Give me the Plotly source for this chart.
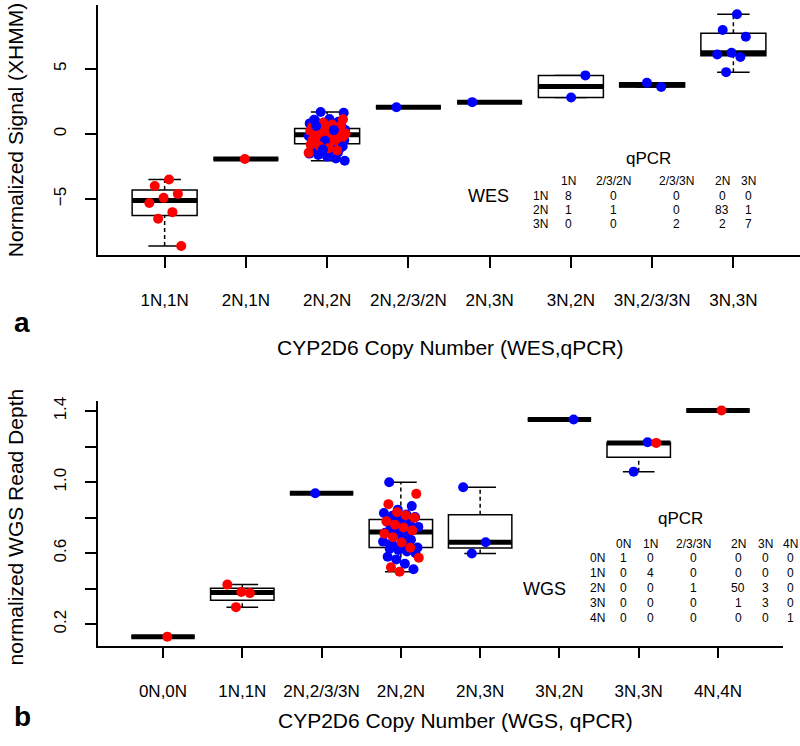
import numpy as np
import plotly.graph_objects as go

# ---- panel a: WES (XHMM normalized signal) vs qPCR ----
wes_cats = ["1N,1N", "2N,1N", "2N,2N", "2N,2/3/2N", "2N,3N", "3N,2N", "3N,2/3/3N", "3N,3N"]
wes_red = [
    [-3.5, -4.0, -4.6, -4.9, -5.3, -6.0, -6.5, -8.6],
    [-1.92],
    [1.12, 0.96, 0.85, 0.72, 0.63, 0.55, 0.44, 0.38, 0.33, 0.24,
     0.19, 0.14, 0.09, 0.04, -0.01, -0.05, -0.09, -0.14, -0.2, -0.24,
     -0.29, -0.36, -0.44, -0.53, -0.61, -0.7, -0.82, -0.95, -1.1, -1.27, -1.45],
    [], [], [], [], [],
]
wes_blue = [
    [],
    [],
    [1.68, 1.62, 1.15, 1.02, 0.94, 0.88, 0.81, 0.74, 0.66, 0.58,
     0.52, 0.47, 0.41, 0.36, 0.31, 0.27, 0.22, 0.17, 0.12, 0.08,
     0.03, -0.02, -0.07, -0.12, -0.18, -0.26, -0.33, -0.41, -0.48, -0.56,
     -0.63, -0.71, -0.78, -0.86, -0.93, -1.01, -1.08, -1.16, -1.24, -1.33,
     -1.42, -1.51, -1.62, -1.74, -1.88, -2.06, 0.61, -0.52, 0.29, -0.97, 1.08, -1.2],
    [2.05],
    [2.44],
    [4.49, 2.8],
    [3.6, 3.92],
    [9.18, 7.97, 7.46, 6.23, 6.1, 5.9, 4.74],
]
wes_tab_cols = ["1N", "2/3/2N", "2/3/3N", "2N", "3N"]
wes_tab_rows = ["1N", "2N", "3N"]
wes_tab_counts = [[8, 0, 0, 0, 0],
                  [1, 1, 0, 83, 1],
                  [0, 0, 2, 2, 7]]

# ---- panel b: WGS read depth vs qPCR ----
wgs_cats = ["0N,0N", "1N,1N", "2N,2/3/3N", "2N,2N", "2N,3N", "3N,2N", "3N,3N", "4N,4N"]
wgs_red = [
    [0.13],
    [0.382, 0.423, 0.375, 0.296],
    [],
    [0.934, 0.876, 0.83, 0.813, 0.80, 0.78, 0.76, 0.745, 0.728, 0.71,
     0.69, 0.66, 0.63, 0.574, 0.52, 0.495],
    [],
    [],
    [1.221],
    [1.404],
]
wgs_blue = [
    [],
    [],
    [0.937],
    [0.999, 0.865, 0.845, 0.826, 0.818, 0.81, 0.803, 0.79, 0.775, 0.765,
     0.755, 0.748, 0.74, 0.735, 0.73, 0.722, 0.715, 0.705, 0.695, 0.685,
     0.675, 0.665, 0.655, 0.645, 0.64, 0.632, 0.625, 0.618, 0.61, 0.6,
     0.58, 0.565, 0.54, 0.509],
    [0.971, 0.661, 0.598],
    [1.353],
    [1.225, 1.059],
    [],
]
wgs_tab_cols = ["0N", "1N", "2/3/3N", "2N", "3N", "4N"]
wgs_tab_rows = ["0N", "1N", "2N", "3N", "4N"]
wgs_tab_counts = [[1, 0, 0, 0, 0, 0],
                  [0, 4, 0, 0, 0, 0],
                  [0, 0, 1, 50, 3, 0],
                  [0, 0, 0, 1, 3, 0],
                  [0, 0, 0, 0, 0, 1]]

W, H = 800, 746
FONT = "Liberation Sans, Arial, Helvetica, sans-serif"
RED, BLUE = "#ff0000", "#0000ff"


def px(x):
    return x / W


def py(y):
    return 1 - y / H


def fivenum(v):
    # Tukey five-number summary, as R's boxplot uses
    x = np.sort(np.asarray(v, float))
    n = len(x)
    n4 = np.floor((n + 3) / 2) / 2
    d = np.array([1, n4, (n + 1) / 2, n + 1 - n4, n])
    return 0.5 * (x[np.floor(d).astype(int) - 1] + x[np.ceil(d).astype(int) - 1])


def box_stats(v):
    _, q1, med, q3, _ = fivenum(v)
    iqr = q3 - q1
    x = np.asarray(v, float)
    lo = x[x >= q1 - 1.5 * iqr].min()
    hi = x[x <= q3 + 1.5 * iqr].max()
    return lo, q1, med, q3, hi


fig = go.Figure()
shapes = []


def draw_panel(cats, reds, blues, xr, yr):
    xs, ys, cs = [], [], []
    for i, cat in enumerate(cats):
        pos = i + 1
        b, r = list(blues[i]), list(reds[i])
        # surplus of the larger set is drawn first, then the two sets alternate
        extra = abs(len(b) - len(r))
        if len(b) >= len(r):
            vals, cols = b[:extra], [BLUE] * extra
            b = b[extra:]
        else:
            vals, cols = r[:extra], [RED] * extra
            r = r[extra:]
        for bv, rv in zip(b, r):
            vals += [bv, rv]
            cols += [BLUE, RED]
        lo, q1, med, q3, hi = box_stats(vals)
        blk = dict(color="black", width=1.5)
        common = dict(xref=xr, yref=yr, layer="below")
        shapes.append(dict(type="line", x0=pos, x1=pos, y0=q3, y1=hi,
                           line=dict(color="black", width=1.5, dash="4px,3px"), **common))
        shapes.append(dict(type="line", x0=pos, x1=pos, y0=lo, y1=q1,
                           line=dict(color="black", width=1.5, dash="4px,3px"), **common))
        for w in (lo, hi):
            shapes.append(dict(type="line", x0=pos - 0.2, x1=pos + 0.2, y0=w, y1=w,
                               line=blk, **common))
        shapes.append(dict(type="rect", x0=pos - 0.4, x1=pos + 0.4, y0=q1, y1=q3,
                           fillcolor="white", line=blk, **common))
        shapes.append(dict(type="line", x0=pos - 0.4, x1=pos + 0.4, y0=med, y1=med,
                           line=dict(color="black", width=5), **common))
        # deterministic jitter of the points around the category position
        n = len(vals)
        frac = ((np.arange(n) + 1 + 3 * i) * 0.6180339887) % 1.0
        offs = (frac - 0.5) * 0.46
        xs += list(pos + offs)
        ys += vals
        cs += cols
    fig.add_trace(go.Scatter(
        x=xs, y=ys, mode="markers", xaxis=xr, yaxis=yr,
        marker=dict(color=cs, size=10, line=dict(width=0)),
        showlegend=False, hoverinfo="y"))
    allv = [v for g in reds + blues for v in g]
    lo, hi = min(allv), max(allv)
    pad = 0.04 * (hi - lo)
    n = len(cats)
    xpad = 0.04 * n
    return [0.5 - xpad, n + 0.5 + xpad], [lo - pad, hi + pad]


xr_a, yr_a = draw_panel(wes_cats, wes_red, wes_blue, "x", "y")
xr_b, yr_b = draw_panel(wgs_cats, wgs_red, wgs_blue, "x2", "y2")

axis_common = dict(showline=True, linecolor="black", linewidth=1.5,
                   ticks="outside", ticklen=11, tickwidth=1.5, tickcolor="black",
                   showgrid=False, zeroline=False,
                   tickfont=dict(family=FONT, size=17, color="black"))

fig.update_layout(
    width=W, height=H,
    margin=dict(l=0, r=0, t=0, b=0),
    paper_bgcolor="white", plot_bgcolor="white",
    showlegend=False,
    shapes=shapes,
    xaxis=dict(domain=[px(98), 1.0], range=xr_a, anchor="y",
               tickvals=list(range(1, len(wes_cats) + 1)), ticktext=wes_cats,
               ticklabelstandoff=18, **axis_common),
    yaxis=dict(domain=[py(252), 1.0], range=yr_a, anchor="x",
               tickvals=[-5, 0, 5], tickangle=-90, ticklabelstandoff=12,
               **axis_common),
    xaxis2=dict(domain=[px(98), px(783)], range=xr_b, anchor="y2",
                tickvals=list(range(1, len(wgs_cats) + 1)), ticktext=wgs_cats,
                ticklabelstandoff=18, **axis_common),
    yaxis2=dict(domain=[py(645), py(399)], range=yr_b, anchor="x2",
                tickvals=[0.2, 0.4, 0.6, 0.8, 1.0, 1.2, 1.4],
                ticktext=["0.2", "", "0.6", "", "1.0", "", "1.4"],
                tickangle=-90, ticklabelstandoff=12, **axis_common),
)

ann = []


def label(x, y, text, size, angle=0, bold=False):
    t = "<b>%s</b>" % text if bold else text
    ann.append(dict(x=px(x), y=py(y), xref="paper", yref="paper", text=t,
                    showarrow=False, textangle=angle, xanchor="center", yanchor="middle",
                    font=dict(family=FONT, size=size, color="black")))


# axis titles and panel letters
label(15, 126, "Normalized Signal (XHMM)", 21, angle=-90)
label(450, 345, "CYP2D6 Copy Number (WES,qPCR)", 21)
label(22, 320, "a", 28, bold=True)
label(15, 526, "normalized WGS Read Depth", 21, angle=-90)
label(455, 720, "CYP2D6 Copy Number (WGS, qPCR)", 21)
label(22, 716, "b", 28, bold=True)

# contingency table, panel a
TS = 12
label(648, 155, "qPCR", 17)
label(488, 192, "WES", 18)
wes_col_x = [568, 613, 676, 722, 748]
wes_row_y = [192, 206, 220]
for cx, c in zip(wes_col_x, wes_tab_cols):
    label(cx, 177, c, TS)
for ry, r, counts in zip(wes_row_y, wes_tab_rows, wes_tab_counts):
    label(540, ry, r, TS)
    for cx, v in zip(wes_col_x, counts):
        label(cx, ry, str(v), TS)

# contingency table, panel b
label(680, 517, "qPCR", 17)
label(544, 588, "WGS", 18)
wgs_col_x = [623, 650, 693, 738, 765, 790]
wgs_row_y = [557, 572, 587, 602, 617]
for cx, c in zip(wgs_col_x, wgs_tab_cols):
    label(cx, 543, c, TS)
for ry, r, counts in zip(wgs_row_y, wgs_tab_rows, wgs_tab_counts):
    label(597, ry, r, TS)
    for cx, v in zip(wgs_col_x, counts):
        label(cx, ry, str(v), TS)

fig.update_layout(annotations=ann)

fig.write_html("out.html", config={"displayModeBar": False},
               post_script="document.body.style.margin='0';document.body.style.overflow='hidden';")
